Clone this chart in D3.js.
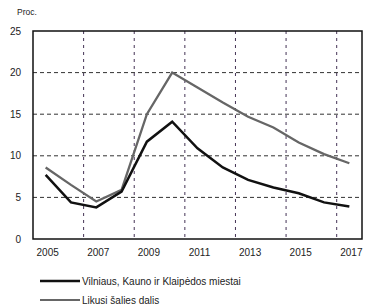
<!DOCTYPE html>
<html>
<head>
<meta charset="utf-8">
<script src="https://cdn.jsdelivr.net/npm/d3@7"></script>
<style>
  body { margin: 0; background: #fff; }
  text { font-family: "Liberation Sans Narrow", "Arial Narrow", "Liberation Sans", sans-serif; fill: #222; }
</style>
</head>
<body>
<div id="chart-area"></div>
<script>
const years = [2005, 2006, 2007, 2008, 2009, 2010, 2011, 2012, 2013, 2014, 2015, 2016, 2017]
const bigCities = [7.7, 4.4, 3.8, 5.7, 11.7, 14.1, 10.9, 8.6, 7.1, 6.2, 5.5, 4.4, 3.9]
const restOfCountry = [8.6, 6.5, 4.5, 5.9, 15.0, 20.0, 18.2, 16.4, 14.7, 13.4, 11.6, 10.2, 9.1]
const yTicks = [0, 5, 10, 15, 20, 25]
const xLabels = [2005, 2007, 2009, 2011, 2013, 2015, 2017]
const seriesNames = ["Vilniaus, Kauno ir Klaipėdos miestai", "Likusi šalies dalis"]

const MARGIN = { LEFT: 33, RIGHT: 6, TOP: 31, BOTTOM: 69 }
const WIDTH = 368 - MARGIN.LEFT - MARGIN.RIGHT
const HEIGHT = 308 - MARGIN.TOP - MARGIN.BOTTOM

const svg = d3.select('#chart-area').append('svg')
  .attr('width', 368)
  .attr('height', 308)

const g = svg.append("g")
  .attr("transform", `translate(${MARGIN.LEFT}, ${MARGIN.TOP})`)

const x = d3.scalePoint()
  .domain(years)
  .range([0, WIDTH])
  .padding(0.5)

const y = d3.scaleLinear()
  .domain([0, 25])
  .range([HEIGHT, 0])

const step = x.step()

// horizontal grid
g.selectAll(".hgrid").data(yTicks.filter(d => d > 0 && d < 25))
  .enter().append("line")
  .attr("x1", 0).attr("x2", WIDTH)
  .attr("y1", d => y(d)).attr("y2", d => y(d))
  .attr("stroke", "#333")
  .attr("stroke-width", 1)
  .attr("stroke-dasharray", "4,3")

// vertical grid (between years, before each labelled odd year)
g.selectAll(".vgrid").data(xLabels.slice(1))
  .enter().append("line")
  .attr("x1", d => x(d) - step / 2).attr("x2", d => x(d) - step / 2)
  .attr("y1", 0).attr("y2", HEIGHT)
  .attr("stroke", "#443355")
  .attr("stroke-width", 1)
  .attr("stroke-dasharray", "3,4")

// frame
g.append("rect")
  .attr("x", 0).attr("y", 0)
  .attr("width", WIDTH).attr("height", HEIGHT)
  .attr("fill", "none")
  .attr("stroke", "#111")
  .attr("stroke-width", 1.5)

// y tick labels
g.selectAll(".ylab").data(yTicks)
  .enter().append("text")
  .attr("x", -12)
  .attr("y", d => y(d) + 3.5)
  .attr("text-anchor", "end")
  .attr("font-size", "10px")
  .text(d => d)

// x tick labels
g.selectAll(".xlab").data(xLabels)
  .enter().append("text")
  .attr("x", d => x(d) + 2)
  .attr("y", HEIGHT + 17)
  .attr("text-anchor", "middle")
  .attr("font-size", "10px")
  .text(d => d)

// unit label
svg.append("text")
  .attr("x", 17).attr("y", 15)
  .attr("font-size", "8.5px")
  .text("Proc.")

const line = d3.line()
  .x((d, i) => x(years[i]))
  .y(d => y(d))

g.append("path")
  .datum(restOfCountry)
  .attr("d", line)
  .attr("fill", "none")
  .attr("stroke", "#666")
  .attr("stroke-width", 2.3)

g.append("path")
  .datum(bigCities)
  .attr("d", line)
  .attr("fill", "none")
  .attr("stroke", "#111")
  .attr("stroke-width", 2.5)

// legend
const legend = svg.append("g").attr("transform", "translate(40, 281)")
const legendColors = ["#111", "#666"]
seriesNames.forEach((name, i) => {
  const row = legend.append("g").attr("transform", `translate(0, ${i * 19})`)
  row.append("line")
    .attr("x1", 0).attr("x2", 40)
    .attr("y1", 0).attr("y2", 0)
    .attr("stroke", legendColors[i])
    .attr("stroke-width", i === 0 ? 2.5 : 2)
  row.append("text")
    .attr("x", 42).attr("y", 3.5)
    .attr("font-size", "10px")
    .text(name)
})
</script>
</body>
</html>
